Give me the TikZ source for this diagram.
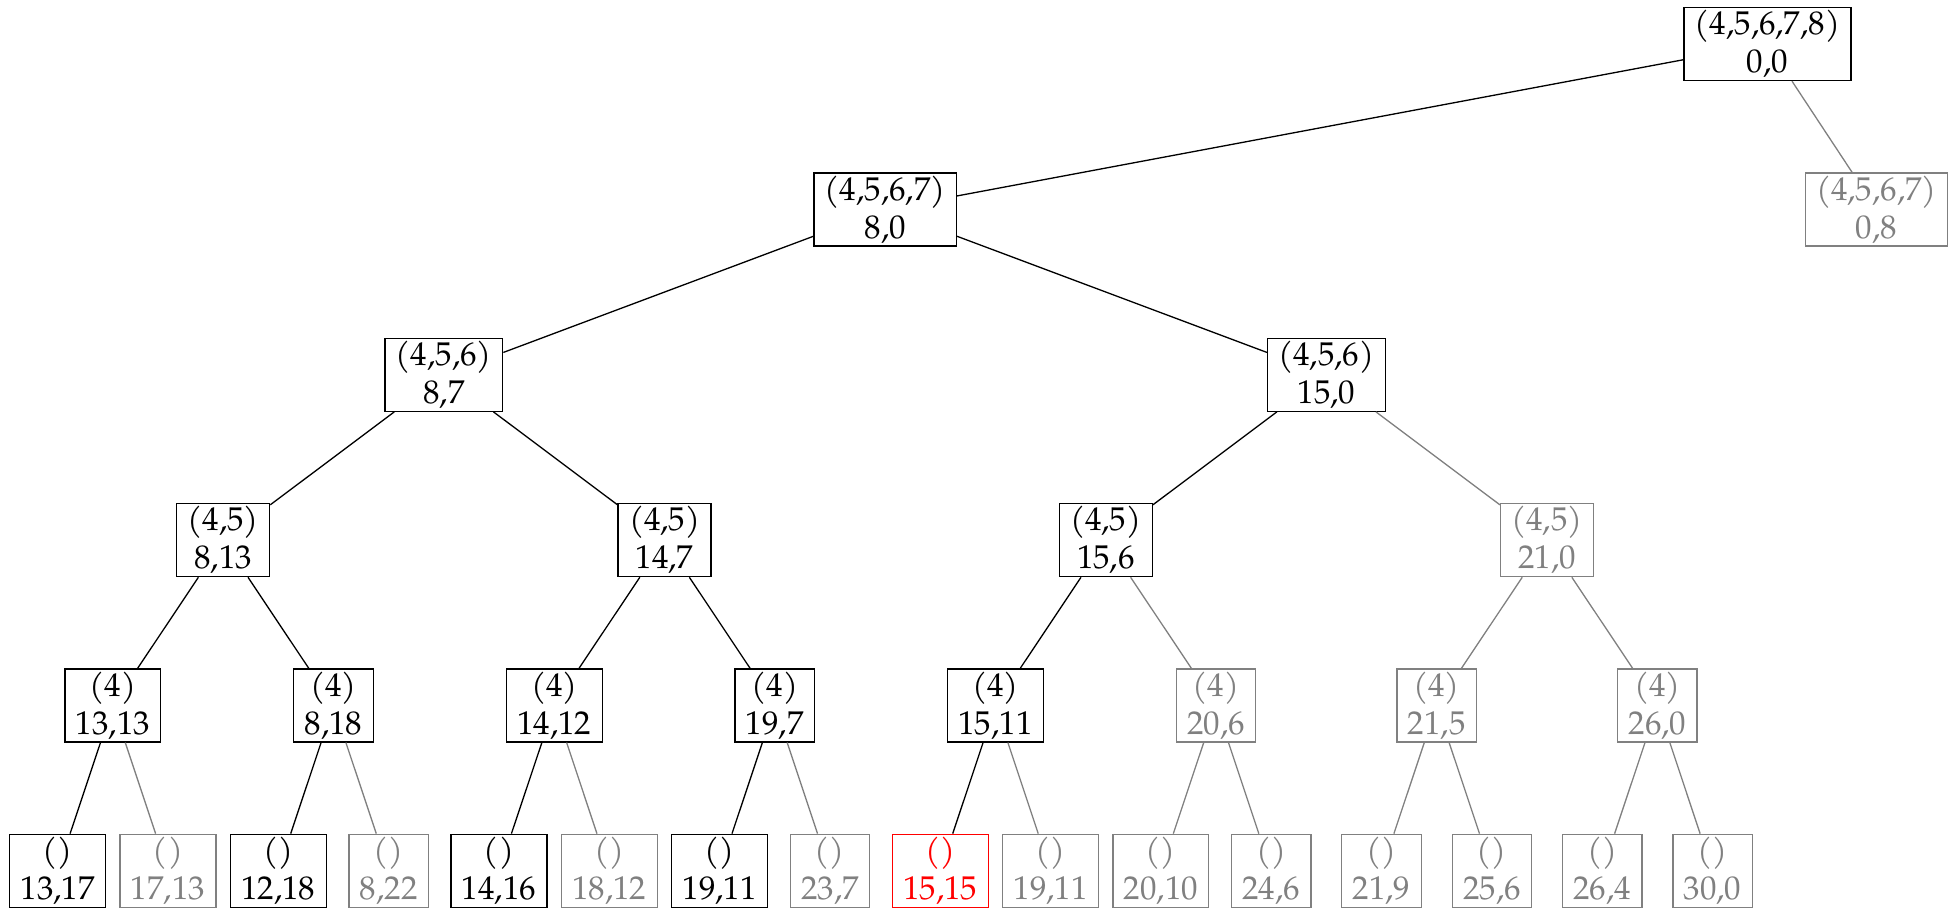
\documentclass[tikz,border=0pt]{standalone}
\usepackage{fontspec}
\setmainfont{TeX Gyre Pagella}
\begin{document}
\begin{tikzpicture}[x=0.3067pt, y=-0.3067pt,
  tn/.style={draw, align=center, inner xsep=0.333em, inner ysep=0.8pt,
    minimum height=22.4pt, line width=0.4pt,
    font=\fontsize{10.1pt}{11.7pt}\selectfont},
  act/.style={tn, draw=black, text=black},
  off/.style={tn, draw=gray, text=gray},
  hit/.style={tn, draw=red, text=red},
  eb/.style={draw=black, line width=0.4pt},
  eg/.style={draw=gray, line width=0.4pt}]
\useasboundingbox (0,0) rectangle (1951,909);
% level 0
\node[act] (r) at (1767.5,44) {(4,5,6,7,8)\\0,0};
% level 1
\node[act] (a) at (885.2,209.4) {(4,5,6,7)\\8,0};
\node[off] (b) at (1876.5,209.4) {(4,5,6,7)\\0,8};
% level 2
\node[act] (aa) at (443.9,374.7) {(4,5,6)\\8,7};
\node[act] (ab) at (1326.4,374.7) {(4,5,6)\\15,0};
% level 3
\node[act] (aaa) at (223.2,540.1) {(4,5)\\8,13};
\node[act] (aab) at (664.6,540.1) {(4,5)\\14,7};
\node[act] (aba) at (1105.8,540.1) {(4,5)\\15,6};
\node[off] (abb) at (1547.0,540.1) {(4,5)\\21,0};
% level 4
\node[act] (c1) at (112.9,705.4) {(4)\\13,13};
\node[act] (c2) at (333.5,705.4) {(4)\\8,18};
\node[act] (c3) at (554.3,705.4) {(4)\\14,12};
\node[act] (c4) at (774.8,705.4) {(4)\\19,7};
\node[act] (c5) at (995.5,705.4) {(4)\\15,11};
\node[off] (c6) at (1216.1,705.4) {(4)\\20,6};
\node[off] (c7) at (1436.7,705.4) {(4)\\21,5};
\node[off] (c8) at (1657.4,705.4) {(4)\\26,0};
% level 5
\node[act] (d1) at (57.7,870.8) {()\\13,17};
\node[off] (d2) at (168.0,870.8) {()\\17,13};
\node[act] (d3) at (278.3,870.8) {()\\12,18};
\node[off] (d4) at (388.7,870.8) {()\\8,22};
\node[act] (d5) at (499.0,870.8) {()\\14,16};
\node[off] (d6) at (609.3,870.8) {()\\18,12};
\node[act] (d7) at (719.6,870.8) {()\\19,11};
\node[off] (d8) at (829.9,870.8) {()\\23,7};
\node[hit] (d9) at (940.3,870.8) {()\\15,15};
\node[off] (d10) at (1050.6,870.8) {()\\19,11};
\node[off] (d11) at (1160.9,870.8) {()\\20,10};
\node[off] (d12) at (1271.2,870.8) {()\\24,6};
\node[off] (d13) at (1381.5,870.8) {()\\21,9};
\node[off] (d14) at (1491.9,870.8) {()\\25,6};
\node[off] (d15) at (1602.2,870.8) {()\\26,4};
\node[off] (d16) at (1712.5,870.8) {()\\30,0};
% edges
\draw[eb] (r) -- (a);
\draw[eg] (r) -- (b);
\draw[eb] (a) -- (aa);
\draw[eb] (a) -- (ab);
\draw[eb] (aa) -- (aaa);
\draw[eb] (aa) -- (aab);
\draw[eb] (ab) -- (aba);
\draw[eg] (ab) -- (abb);
\draw[eb] (aaa) -- (c1);
\draw[eb] (aaa) -- (c2);
\draw[eb] (aab) -- (c3);
\draw[eb] (aab) -- (c4);
\draw[eb] (aba) -- (c5);
\draw[eg] (aba) -- (c6);
\draw[eg] (abb) -- (c7);
\draw[eg] (abb) -- (c8);
\draw[eb] (c1) -- (d1);
\draw[eg] (c1) -- (d2);
\draw[eb] (c2) -- (d3);
\draw[eg] (c2) -- (d4);
\draw[eb] (c3) -- (d5);
\draw[eg] (c3) -- (d6);
\draw[eb] (c4) -- (d7);
\draw[eg] (c4) -- (d8);
\draw[eb] (c5) -- (d9);
\draw[eg] (c5) -- (d10);
\draw[eg] (c6) -- (d11);
\draw[eg] (c6) -- (d12);
\draw[eg] (c7) -- (d13);
\draw[eg] (c7) -- (d14);
\draw[eg] (c8) -- (d15);
\draw[eg] (c8) -- (d16);
\end{tikzpicture}
\end{document}
